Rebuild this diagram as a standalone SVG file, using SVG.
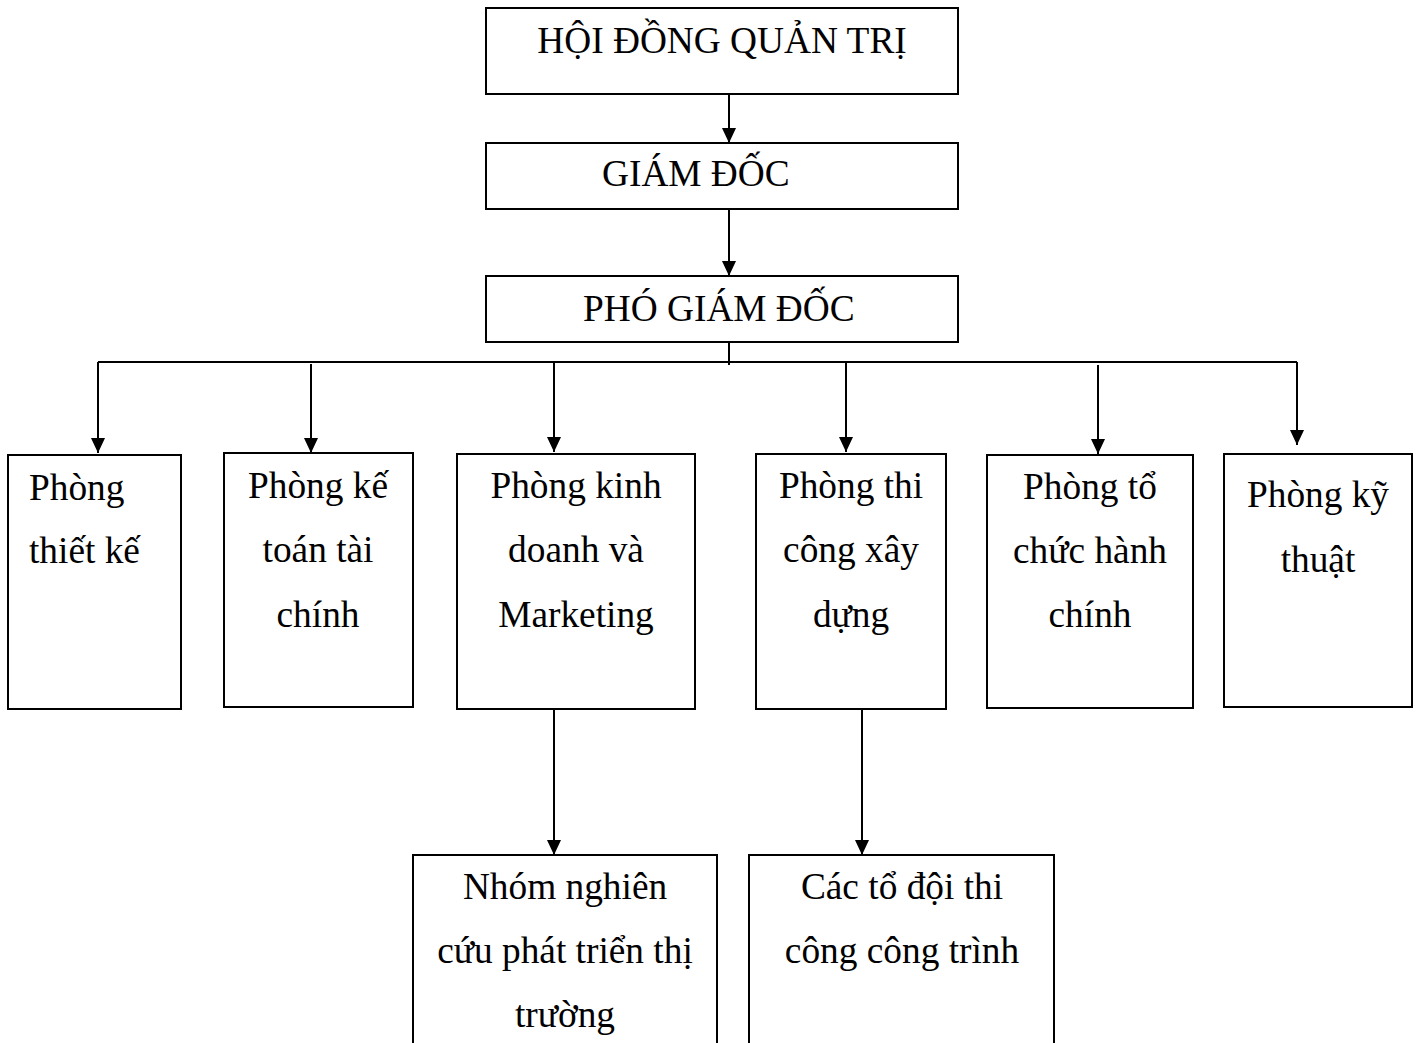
<svg xmlns="http://www.w3.org/2000/svg" width="1419" height="1043" viewBox="0 0 1419 1043">
<style>
.box{fill:#fff;stroke:#000;stroke-width:2}
.t{font-family:"Liberation Serif","Times New Roman",serif;font-size:37.33px;fill:#000}
.m{text-anchor:middle}
.c{fill:none;stroke:#000;stroke-width:2}
</style>
<defs>
<marker id="ah" markerUnits="userSpaceOnUse" markerWidth="16" markerHeight="16" refX="15" refY="7" orient="auto">
<path d="M0,0 L15,7 L0,14 z" fill="#000"/>
</marker>
</defs>
<rect width="1419" height="1043" fill="#fff"/>
<g id="connectors">
<line class="c" x1="729" y1="94" x2="729" y2="143" marker-end="url(#ah)"/>
<line class="c" x1="729" y1="209" x2="729" y2="276" marker-end="url(#ah)"/>
<line class="c" x1="729" y1="342" x2="729" y2="365"/>
<line class="c" x1="98" y1="362" x2="1297" y2="362"/>
<line class="c" x1="98" y1="362" x2="98" y2="453" marker-end="url(#ah)"/>
<line class="c" x1="311" y1="364" x2="311" y2="453" marker-end="url(#ah)"/>
<line class="c" x1="554" y1="362" x2="554" y2="452" marker-end="url(#ah)"/>
<line class="c" x1="846" y1="362" x2="846" y2="452" marker-end="url(#ah)"/>
<line class="c" x1="1098" y1="365" x2="1098" y2="454" marker-end="url(#ah)"/>
<line class="c" x1="1297" y1="362" x2="1297" y2="445" marker-end="url(#ah)"/>
<line class="c" x1="554" y1="709" x2="554" y2="855" marker-end="url(#ah)"/>
<line class="c" x1="862" y1="706" x2="862" y2="855" marker-end="url(#ah)"/>
</g>
<g id="n-hdqt"><rect class="box" x="486" y="8" width="472" height="86"/><text class="t m" x="722" y="53">HỘI ĐỒNG QUẢN TRỊ</text></g>
<g id="n-gd"><rect class="box" x="486" y="143" width="472" height="66"/><text class="t" x="602" y="186">GIÁM ĐỐC</text></g>
<g id="n-pgd"><rect class="box" x="486" y="276" width="472" height="66"/><text class="t" x="583" y="321">PHÓ GIÁM ĐỐC</text></g>
<g id="n-tk"><rect class="box" x="8" y="455" width="173" height="254"/><text class="t" x="29" y="500">Phòng</text><text class="t" x="29" y="563">thiết kế</text></g>
<g id="n-kt"><rect class="box" x="224" y="453" width="189" height="254"/><text class="t m" x="318" y="498">Phòng kế</text><text class="t m" x="318" y="562">toán tài</text><text class="t m" x="318" y="627">chính</text></g>
<g id="n-kd"><rect class="box" x="457" y="454" width="238" height="255"/><text class="t m" x="576" y="498">Phòng kinh</text><text class="t m" x="576" y="562">doanh và</text><text class="t m" x="576" y="627">Marketing</text></g>
<g id="n-tc"><rect class="box" x="756" y="454" width="190" height="255"/><text class="t m" x="851" y="498">Phòng thi</text><text class="t m" x="851" y="562">công xây</text><text class="t m" x="851" y="627">dựng</text></g>
<g id="n-hc"><rect class="box" x="987" y="455" width="206" height="253"/><text class="t m" x="1090" y="499">Phòng tổ</text><text class="t m" x="1090" y="563">chức hành</text><text class="t m" x="1090" y="627">chính</text></g>
<g id="n-kth"><rect class="box" x="1224" y="454" width="188" height="253"/><text class="t m" x="1318" y="507">Phòng kỹ</text><text class="t m" x="1318" y="572">thuật</text></g>
<g id="n-nc"><rect class="box" x="413" y="855" width="304" height="200"/><text class="t m" x="565" y="899">Nhóm nghiên</text><text class="t m" x="565" y="963">cứu phát triển thị</text><text class="t m" x="565" y="1027">trường</text></g>
<g id="n-td"><rect class="box" x="749" y="855" width="305" height="200"/><text class="t m" x="902" y="899">Các tổ đội thi</text><text class="t m" x="902" y="963">công công trình</text></g>
</svg>
